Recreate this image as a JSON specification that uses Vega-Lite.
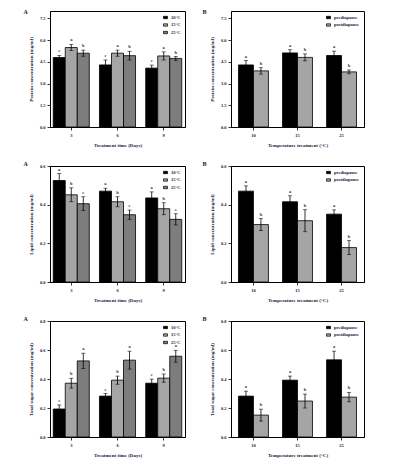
{
  "$schema": "https://vega.github.io/schema/vega-lite/v6.json",
  "background": "white",
  "padding": {"left": 22, "top": 8, "right": 0, "bottom": 0},
  "datasets": {
    "proteinA": [
      {"day": "3", "temp": "10°C", "mean": 4.79, "lo": 4.64, "hi": 4.94, "letter": "c"},
      {"day": "3", "temp": "15°C", "mean": 5.48, "lo": 5.27, "hi": 5.69, "letter": "a"},
      {"day": "3", "temp": "25°C", "mean": 5.09, "lo": 4.88, "hi": 5.30, "letter": "b"},
      {"day": "6", "temp": "10°C", "mean": 4.28, "lo": 3.94, "hi": 4.62, "letter": "c"},
      {"day": "6", "temp": "15°C", "mean": 5.09, "lo": 4.88, "hi": 5.30, "letter": "a"},
      {"day": "6", "temp": "25°C", "mean": 4.92, "lo": 4.62, "hi": 5.22, "letter": "b"},
      {"day": "9", "temp": "10°C", "mean": 4.06, "lo": 3.85, "hi": 4.27, "letter": "c"},
      {"day": "9", "temp": "15°C", "mean": 4.90, "lo": 4.62, "hi": 5.18, "letter": "a"},
      {"day": "9", "temp": "25°C", "mean": 4.73, "lo": 4.60, "hi": 4.86, "letter": "b"}
    ],
    "proteinB": [
      {"temp": "10", "stage": "prediapause", "mean": 4.28, "lo": 3.98, "hi": 4.58, "letter": "a"},
      {"temp": "10", "stage": "postdiapause", "mean": 3.87, "lo": 3.65, "hi": 4.09, "letter": "b"},
      {"temp": "15", "stage": "prediapause", "mean": 5.11, "lo": 4.89, "hi": 5.33, "letter": "a"},
      {"temp": "15", "stage": "postdiapause", "mean": 4.80, "lo": 4.56, "hi": 5.04, "letter": "b"},
      {"temp": "25", "stage": "prediapause", "mean": 4.93, "lo": 4.63, "hi": 5.23, "letter": "a"},
      {"temp": "25", "stage": "postdiapause", "mean": 3.80, "lo": 3.67, "hi": 3.93, "letter": "b"}
    ],
    "lipidA": [
      {"day": "3", "temp": "10°C", "mean": 0.525, "lo": 0.489, "hi": 0.561, "letter": "a"},
      {"day": "3", "temp": "15°C", "mean": 0.451, "lo": 0.415, "hi": 0.487, "letter": "b"},
      {"day": "3", "temp": "25°C", "mean": 0.405, "lo": 0.369, "hi": 0.441, "letter": "c"},
      {"day": "6", "temp": "10°C", "mean": 0.470, "lo": 0.455, "hi": 0.485, "letter": "a"},
      {"day": "6", "temp": "15°C", "mean": 0.415, "lo": 0.389, "hi": 0.441, "letter": "b"},
      {"day": "6", "temp": "25°C", "mean": 0.348, "lo": 0.324, "hi": 0.372, "letter": "c"},
      {"day": "9", "temp": "10°C", "mean": 0.435, "lo": 0.404, "hi": 0.466, "letter": "a"},
      {"day": "9", "temp": "15°C", "mean": 0.379, "lo": 0.348, "hi": 0.410, "letter": "b"},
      {"day": "9", "temp": "25°C", "mean": 0.324, "lo": 0.295, "hi": 0.353, "letter": "c"}
    ],
    "lipidB": [
      {"temp": "10", "stage": "prediapause", "mean": 0.470, "lo": 0.443, "hi": 0.497, "letter": "a"},
      {"temp": "10", "stage": "postdiapause", "mean": 0.297, "lo": 0.266, "hi": 0.328, "letter": "b"},
      {"temp": "15", "stage": "prediapause", "mean": 0.415, "lo": 0.384, "hi": 0.446, "letter": "a"},
      {"temp": "15", "stage": "postdiapause", "mean": 0.317, "lo": 0.260, "hi": 0.374, "letter": "b"},
      {"temp": "25", "stage": "prediapause", "mean": 0.351, "lo": 0.329, "hi": 0.373, "letter": "a"},
      {"temp": "25", "stage": "postdiapause", "mean": 0.178, "lo": 0.142, "hi": 0.214, "letter": "b"}
    ],
    "sugarA": [
      {"day": "3", "temp": "10°C", "mean": 0.193, "lo": 0.165, "hi": 0.221, "letter": "c"},
      {"day": "3", "temp": "15°C", "mean": 0.371, "lo": 0.337, "hi": 0.405, "letter": "b"},
      {"day": "3", "temp": "25°C", "mean": 0.525, "lo": 0.472, "hi": 0.578, "letter": "a"},
      {"day": "6", "temp": "10°C", "mean": 0.282, "lo": 0.264, "hi": 0.300, "letter": "c"},
      {"day": "6", "temp": "15°C", "mean": 0.392, "lo": 0.364, "hi": 0.420, "letter": "b"},
      {"day": "6", "temp": "25°C", "mean": 0.530, "lo": 0.468, "hi": 0.592, "letter": "a"},
      {"day": "9", "temp": "10°C", "mean": 0.371, "lo": 0.343, "hi": 0.399, "letter": "c"},
      {"day": "9", "temp": "15°C", "mean": 0.406, "lo": 0.378, "hi": 0.434, "letter": "b"},
      {"day": "9", "temp": "25°C", "mean": 0.557, "lo": 0.516, "hi": 0.598, "letter": "a"}
    ],
    "sugarB": [
      {"temp": "10", "stage": "prediapause", "mean": 0.282, "lo": 0.248, "hi": 0.316, "letter": "a"},
      {"temp": "10", "stage": "postdiapause", "mean": 0.151, "lo": 0.110, "hi": 0.192, "letter": "b"},
      {"temp": "15", "stage": "prediapause", "mean": 0.392, "lo": 0.364, "hi": 0.420, "letter": "a"},
      {"temp": "15", "stage": "postdiapause", "mean": 0.248, "lo": 0.200, "hi": 0.296, "letter": "b"},
      {"temp": "25", "stage": "prediapause", "mean": 0.532, "lo": 0.472, "hi": 0.592, "letter": "a"},
      {"temp": "25", "stage": "postdiapause", "mean": 0.275, "lo": 0.243, "hi": 0.307, "letter": "b"}
    ]
  },
  "spacing": 12,
  "resolve": {"scale": {"color": "independent", "x": "independent", "y": "independent", "xOffset": "independent"}, "legend": {"color": "independent"}, "axis": {"x": "independent", "y": "independent"}},
  "vconcat": [
    {
      "spacing": 15,
      "resolve": {"scale": {"color": "independent", "x": "independent", "y": "independent", "xOffset": "independent"}, "legend": {"color": "independent"}, "axis": {"x": "independent", "y": "independent"}},
      "hconcat": [
        {
          "width": 135, "height": 116,
          "title": {"text": "A", "dx": -5, "dy": 8},
          "data": {"name": "proteinA"},
          "encoding": {
            "x": {"field": "day", "type": "ordinal", "scale": {"paddingInner": 0.22, "paddingOuter": 0.07}, "axis": {"title": "Treatment time (Days)", "labelAngle": 0}},
            "xOffset": {"field": "temp", "type": "nominal", "sort": ["10°C", "15°C", "25°C"], "scale": {"paddingInner": 0, "paddingOuter": 0}}
          },
          "layer": [
            {"mark": {"type": "bar", "stroke": "black", "strokeWidth": 0.8},
             "encoding": {
               "y": {"field": "mean", "type": "quantitative", "scale": {"domain": [0, 7.5]}, "axis": {"title": "Protein concentration (mg/ml)", "values": [0, 1.5, 3, 4.5, 6, 7.5], "format": ".1f"}},
               "color": {"field": "temp", "type": "nominal", "sort": ["10°C", "15°C", "25°C"], "scale": {"range": ["#000000", "#a5a5a7", "#7d7d7d"]}, "legend": {"title": null}}
             }},
            {"mark": {"type": "rule", "color": "black", "strokeWidth": 0.8},
             "encoding": {"y": {"field": "lo", "type": "quantitative", "axis": {"title": "Protein concentration (mg/ml)", "values": [0, 1.5, 3, 4.5, 6, 7.5], "format": ".1f"}}, "y2": {"field": "hi"}}},
            {"mark": {"type": "tick", "color": "black", "thickness": 0.8, "size": 4},
             "encoding": {"y": {"field": "hi", "type": "quantitative", "axis": {"title": "Protein concentration (mg/ml)", "values": [0, 1.5, 3, 4.5, 6, 7.5], "format": ".1f"}}}},
            {"mark": {"type": "tick", "color": "black", "thickness": 0.8, "size": 4},
             "encoding": {"y": {"field": "lo", "type": "quantitative", "axis": {"title": "Protein concentration (mg/ml)", "values": [0, 1.5, 3, 4.5, 6, 7.5], "format": ".1f"}}}},
            {"mark": {"type": "text", "dy": -4, "fontSize": 4.5, "font": "Liberation Serif", "fontWeight": "bold", "color": "#2a2a4a"},
             "encoding": {"y": {"field": "hi", "type": "quantitative", "axis": {"title": "Protein concentration (mg/ml)", "values": [0, 1.5, 3, 4.5, 6, 7.5], "format": ".1f"}}, "text": {"field": "letter"}}}
          ]
        },
        {
          "width": 133, "height": 116,
          "title": {"text": "B", "dx": -7, "dy": 8},
          "data": {"name": "proteinB"},
          "encoding": {
            "x": {"field": "temp", "type": "ordinal", "scale": {"paddingInner": 0.32, "paddingOuter": 0.17}, "axis": {"title": "Temperature treatment (°C)", "labelAngle": 0}},
            "xOffset": {"field": "stage", "type": "nominal", "sort": ["prediapause", "postdiapause"], "scale": {"paddingInner": 0, "paddingOuter": 0}}
          },
          "layer": [
            {"mark": {"type": "bar", "stroke": "black", "strokeWidth": 0.8},
             "encoding": {
               "y": {"field": "mean", "type": "quantitative", "scale": {"domain": [0, 7.5]}, "axis": {"title": "Protein concentration (mg/ml)", "values": [0, 1.5, 3, 4.5, 6, 7.5], "format": ".1f"}},
               "color": {"field": "stage", "type": "nominal", "sort": ["prediapause", "postdiapause"], "scale": {"range": ["#000000", "#a5a5a7"]}, "legend": {"title": null}}
             }},
            {"mark": {"type": "rule", "color": "black", "strokeWidth": 0.8},
             "encoding": {"y": {"field": "lo", "type": "quantitative", "axis": {"title": "Protein concentration (mg/ml)", "values": [0, 1.5, 3, 4.5, 6, 7.5], "format": ".1f"}}, "y2": {"field": "hi"}}},
            {"mark": {"type": "tick", "color": "black", "thickness": 0.8, "size": 4},
             "encoding": {"y": {"field": "hi", "type": "quantitative", "axis": {"title": "Protein concentration (mg/ml)", "values": [0, 1.5, 3, 4.5, 6, 7.5], "format": ".1f"}}}},
            {"mark": {"type": "tick", "color": "black", "thickness": 0.8, "size": 4},
             "encoding": {"y": {"field": "lo", "type": "quantitative", "axis": {"title": "Protein concentration (mg/ml)", "values": [0, 1.5, 3, 4.5, 6, 7.5], "format": ".1f"}}}},
            {"mark": {"type": "text", "dy": -4, "fontSize": 4.5, "font": "Liberation Serif", "fontWeight": "bold", "color": "#2a2a4a"},
             "encoding": {"y": {"field": "hi", "type": "quantitative", "axis": {"title": "Protein concentration (mg/ml)", "values": [0, 1.5, 3, 4.5, 6, 7.5], "format": ".1f"}}, "text": {"field": "letter"}}}
          ]
        }
      ]
    },
    {
      "spacing": 15,
      "resolve": {"scale": {"color": "independent", "x": "independent", "y": "independent", "xOffset": "independent"}, "legend": {"color": "independent"}, "axis": {"x": "independent", "y": "independent"}},
      "hconcat": [
        {
          "width": 135, "height": 116,
          "title": {"text": "A", "dx": -5, "dy": 8},
          "data": {"name": "lipidA"},
          "encoding": {
            "x": {"field": "day", "type": "ordinal", "scale": {"paddingInner": 0.22, "paddingOuter": 0.07}, "axis": {"title": "Treatment time (Days)", "labelAngle": 0}},
            "xOffset": {"field": "temp", "type": "nominal", "sort": ["10°C", "15°C", "25°C"], "scale": {"paddingInner": 0, "paddingOuter": 0}}
          },
          "layer": [
            {"mark": {"type": "bar", "stroke": "black", "strokeWidth": 0.8},
             "encoding": {
               "y": {"field": "mean", "type": "quantitative", "scale": {"domain": [0, 0.6]}, "axis": {"title": "Lipid concentration (mg/ml)", "values": [0, 0.2, 0.4, 0.6], "format": ".1f"}},
               "color": {"field": "temp", "type": "nominal", "sort": ["10°C", "15°C", "25°C"], "scale": {"range": ["#000000", "#a5a5a7", "#7d7d7d"]}, "legend": {"title": null}}
             }},
            {"mark": {"type": "rule", "color": "black", "strokeWidth": 0.8},
             "encoding": {"y": {"field": "lo", "type": "quantitative", "axis": {"title": "Lipid concentration (mg/ml)", "values": [0, 0.2, 0.4, 0.6], "format": ".1f"}}, "y2": {"field": "hi"}}},
            {"mark": {"type": "tick", "color": "black", "thickness": 0.8, "size": 4},
             "encoding": {"y": {"field": "hi", "type": "quantitative", "axis": {"title": "Lipid concentration (mg/ml)", "values": [0, 0.2, 0.4, 0.6], "format": ".1f"}}}},
            {"mark": {"type": "tick", "color": "black", "thickness": 0.8, "size": 4},
             "encoding": {"y": {"field": "lo", "type": "quantitative", "axis": {"title": "Lipid concentration (mg/ml)", "values": [0, 0.2, 0.4, 0.6], "format": ".1f"}}}},
            {"mark": {"type": "text", "dy": -4, "fontSize": 4.5, "font": "Liberation Serif", "fontWeight": "bold", "color": "#2a2a4a"},
             "encoding": {"y": {"field": "hi", "type": "quantitative", "axis": {"title": "Lipid concentration (mg/ml)", "values": [0, 0.2, 0.4, 0.6], "format": ".1f"}}, "text": {"field": "letter"}}}
          ]
        },
        {
          "width": 133, "height": 116,
          "title": {"text": "B", "dx": -7, "dy": 8},
          "data": {"name": "lipidB"},
          "encoding": {
            "x": {"field": "temp", "type": "ordinal", "scale": {"paddingInner": 0.32, "paddingOuter": 0.17}, "axis": {"title": "Temperature treatment (°C)", "labelAngle": 0}},
            "xOffset": {"field": "stage", "type": "nominal", "sort": ["prediapause", "postdiapause"], "scale": {"paddingInner": 0, "paddingOuter": 0}}
          },
          "layer": [
            {"mark": {"type": "bar", "stroke": "black", "strokeWidth": 0.8},
             "encoding": {
               "y": {"field": "mean", "type": "quantitative", "scale": {"domain": [0, 0.6]}, "axis": {"title": "Lipid concentration (mg/ml)", "values": [0, 0.2, 0.4, 0.6], "format": ".1f"}},
               "color": {"field": "stage", "type": "nominal", "sort": ["prediapause", "postdiapause"], "scale": {"range": ["#000000", "#a5a5a7"]}, "legend": {"title": null}}
             }},
            {"mark": {"type": "rule", "color": "black", "strokeWidth": 0.8},
             "encoding": {"y": {"field": "lo", "type": "quantitative", "axis": {"title": "Lipid concentration (mg/ml)", "values": [0, 0.2, 0.4, 0.6], "format": ".1f"}}, "y2": {"field": "hi"}}},
            {"mark": {"type": "tick", "color": "black", "thickness": 0.8, "size": 4},
             "encoding": {"y": {"field": "hi", "type": "quantitative", "axis": {"title": "Lipid concentration (mg/ml)", "values": [0, 0.2, 0.4, 0.6], "format": ".1f"}}}},
            {"mark": {"type": "tick", "color": "black", "thickness": 0.8, "size": 4},
             "encoding": {"y": {"field": "lo", "type": "quantitative", "axis": {"title": "Lipid concentration (mg/ml)", "values": [0, 0.2, 0.4, 0.6], "format": ".1f"}}}},
            {"mark": {"type": "text", "dy": -4, "fontSize": 4.5, "font": "Liberation Serif", "fontWeight": "bold", "color": "#2a2a4a"},
             "encoding": {"y": {"field": "hi", "type": "quantitative", "axis": {"title": "Lipid concentration (mg/ml)", "values": [0, 0.2, 0.4, 0.6], "format": ".1f"}}, "text": {"field": "letter"}}}
          ]
        }
      ]
    },
    {
      "spacing": 15,
      "resolve": {"scale": {"color": "independent", "x": "independent", "y": "independent", "xOffset": "independent"}, "legend": {"color": "independent"}, "axis": {"x": "independent", "y": "independent"}},
      "hconcat": [
        {
          "width": 135, "height": 116,
          "title": {"text": "A", "dx": -5, "dy": 8},
          "data": {"name": "sugarA"},
          "encoding": {
            "x": {"field": "day", "type": "ordinal", "scale": {"paddingInner": 0.22, "paddingOuter": 0.07}, "axis": {"title": "Treatment time (Days)", "labelAngle": 0}},
            "xOffset": {"field": "temp", "type": "nominal", "sort": ["10°C", "15°C", "25°C"], "scale": {"paddingInner": 0, "paddingOuter": 0}}
          },
          "layer": [
            {"mark": {"type": "bar", "stroke": "black", "strokeWidth": 0.8},
             "encoding": {
               "y": {"field": "mean", "type": "quantitative", "scale": {"domain": [0, 0.8]}, "axis": {"title": "Total sugar concentration (mg/ml)", "values": [0, 0.2, 0.4, 0.6, 0.8], "format": ".1f"}},
               "color": {"field": "temp", "type": "nominal", "sort": ["10°C", "15°C", "25°C"], "scale": {"range": ["#000000", "#a5a5a7", "#7d7d7d"]}, "legend": {"title": null}}
             }},
            {"mark": {"type": "rule", "color": "black", "strokeWidth": 0.8},
             "encoding": {"y": {"field": "lo", "type": "quantitative", "axis": {"title": "Total sugar concentration (mg/ml)", "values": [0, 0.2, 0.4, 0.6, 0.8], "format": ".1f"}}, "y2": {"field": "hi"}}},
            {"mark": {"type": "tick", "color": "black", "thickness": 0.8, "size": 4},
             "encoding": {"y": {"field": "hi", "type": "quantitative", "axis": {"title": "Total sugar concentration (mg/ml)", "values": [0, 0.2, 0.4, 0.6, 0.8], "format": ".1f"}}}},
            {"mark": {"type": "tick", "color": "black", "thickness": 0.8, "size": 4},
             "encoding": {"y": {"field": "lo", "type": "quantitative", "axis": {"title": "Total sugar concentration (mg/ml)", "values": [0, 0.2, 0.4, 0.6, 0.8], "format": ".1f"}}}},
            {"mark": {"type": "text", "dy": -4, "fontSize": 4.5, "font": "Liberation Serif", "fontWeight": "bold", "color": "#2a2a4a"},
             "encoding": {"y": {"field": "hi", "type": "quantitative", "axis": {"title": "Total sugar concentration (mg/ml)", "values": [0, 0.2, 0.4, 0.6, 0.8], "format": ".1f"}}, "text": {"field": "letter"}}}
          ]
        },
        {
          "width": 133, "height": 116,
          "title": {"text": "B", "dx": -7, "dy": 8},
          "data": {"name": "sugarB"},
          "encoding": {
            "x": {"field": "temp", "type": "ordinal", "scale": {"paddingInner": 0.32, "paddingOuter": 0.17}, "axis": {"title": "Temperature treatment (°C)", "labelAngle": 0}},
            "xOffset": {"field": "stage", "type": "nominal", "sort": ["prediapause", "postdiapause"], "scale": {"paddingInner": 0, "paddingOuter": 0}}
          },
          "layer": [
            {"mark": {"type": "bar", "stroke": "black", "strokeWidth": 0.8},
             "encoding": {
               "y": {"field": "mean", "type": "quantitative", "scale": {"domain": [0, 0.8]}, "axis": {"title": "Total sugar concentration (mg/ml)", "values": [0, 0.2, 0.4, 0.6, 0.8], "format": ".1f"}},
               "color": {"field": "stage", "type": "nominal", "sort": ["prediapause", "postdiapause"], "scale": {"range": ["#000000", "#a5a5a7"]}, "legend": {"title": null}}
             }},
            {"mark": {"type": "rule", "color": "black", "strokeWidth": 0.8},
             "encoding": {"y": {"field": "lo", "type": "quantitative", "axis": {"title": "Total sugar concentration (mg/ml)", "values": [0, 0.2, 0.4, 0.6, 0.8], "format": ".1f"}}, "y2": {"field": "hi"}}},
            {"mark": {"type": "tick", "color": "black", "thickness": 0.8, "size": 4},
             "encoding": {"y": {"field": "hi", "type": "quantitative", "axis": {"title": "Total sugar concentration (mg/ml)", "values": [0, 0.2, 0.4, 0.6, 0.8], "format": ".1f"}}}},
            {"mark": {"type": "tick", "color": "black", "thickness": 0.8, "size": 4},
             "encoding": {"y": {"field": "lo", "type": "quantitative", "axis": {"title": "Total sugar concentration (mg/ml)", "values": [0, 0.2, 0.4, 0.6, 0.8], "format": ".1f"}}}},
            {"mark": {"type": "text", "dy": -4, "fontSize": 4.5, "font": "Liberation Serif", "fontWeight": "bold", "color": "#2a2a4a"},
             "encoding": {"y": {"field": "hi", "type": "quantitative", "axis": {"title": "Total sugar concentration (mg/ml)", "values": [0, 0.2, 0.4, 0.6, 0.8], "format": ".1f"}}, "text": {"field": "letter"}}}
          ]
        }
      ]
    }
  ],
  "config": {
    "font": "Liberation Serif",
    "view": {"stroke": "black", "strokeWidth": 1},
    "title": {"anchor": "start", "frame": "bounds", "fontSize": 6, "fontWeight": "bold", "font": "Liberation Serif", "color": "#1a1a3a", "offset": 0},
    "axis": {"grid": false, "domainColor": "black", "domainWidth": 1, "tickColor": "black", "tickWidth": 0.8, "tickSize": 3, "labelFont": "Liberation Serif", "labelFontWeight": "bold", "labelFontSize": 4.5, "labelColor": "#1a1a3a", "labelPadding": 2, "titleFont": "Liberation Serif", "titleFontWeight": "bold", "titleFontSize": 5, "titleColor": "#1a1a3a", "titlePadding": 6},
    "legend": {"orient": "top-right", "offset": 4, "padding": 0, "labelFont": "Liberation Serif", "labelFontWeight": "bold", "labelFontSize": 4.5, "labelColor": "#1a1a3a", "symbolType": "M-1,-0.6H1V0.6H-1Z", "symbolSize": 16, "symbolStrokeColor": "black", "symbolStrokeWidth": 0.7, "rowPadding": 0.5, "labelOffset": 3}
  }
}
